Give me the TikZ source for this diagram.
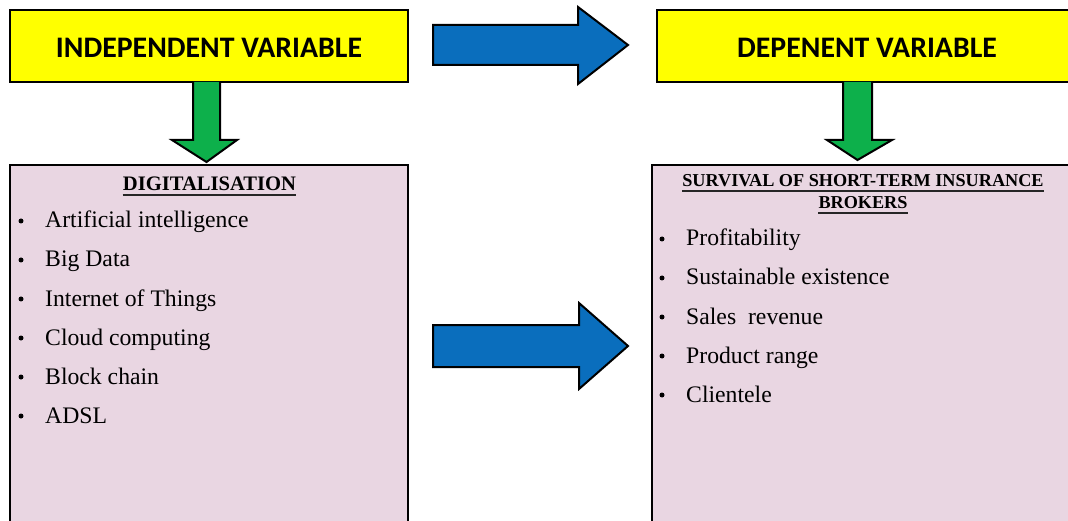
\documentclass[tikz,border=0pt]{standalone}
\usepackage{fontspec}
\setmainfont{Liberation Serif}
\newfontfamily\carlito{Carlito}
\usetikzlibrary{calc}
\definecolor{boxyellow}{HTML}{FFFF00}
\definecolor{boxpink}{HTML}{E9D6E2}
\definecolor{arrblue}{HTML}{0A6EBD}
\definecolor{arrgreen}{HTML}{0DB04B}
\tikzset{
  ybox/.style={draw=black, line width=2.6pt, fill=boxyellow, inner sep=0pt,
    minimum height=72pt, text height=24pt, text depth=0pt,
    font=\carlito\bfseries\fontsize{29.8}{32}\selectfont},
  pbox/.style={draw=black, line width=2.6pt, fill=boxpink, inner sep=0pt},
  headtxt/.style={inner sep=0pt, anchor=base, font=\bfseries\fontsize{20.6}{22}\selectfont},
  headtxtR/.style={inner sep=0pt, anchor=base, font=\bfseries\fontsize{18.2}{20}\selectfont},
  itemtxt/.style={inner sep=0pt, anchor=base west, font=\fontsize{23.7}{26}\selectfont},
  ulinestyle/.style={line width=1.3pt, black!85},
  bulletdot/.style={fill=black},
  bluearrow/.style={draw=black, line width=2pt, fill=arrblue, line join=miter},
  greenarrow/.style={draw=black, line width=2pt, fill=arrgreen, line join=miter},
}
\begin{document}
\begin{tikzpicture}[x=1pt, y=-1pt]
\clip (0,0) rectangle (1068,521);
\fill[white] (0,0) rectangle (1068,521);

% boxes
\node[ybox, minimum width=398pt] (indep) at (209,46) {INDEPENDENT VARIABLE};
\node[ybox, minimum width=420pt] (dep) at (867,46) {DEPENENT VARIABLE};
\node[pbox, minimum width=398pt, minimum height=380pt] (pinkL) at (209,355) {};
\node[pbox, minimum width=422pt, minimum height=380pt] (pinkR) at (863,355) {};

% top blue arrow (independent -> dependent)
\draw[bluearrow] (433,25) -- (578,25) -- (578,7) -- (628,45) -- (578,84) -- (578,65) -- (433,65) -- cycle;
% middle blue arrow
\draw[bluearrow] (433,325) -- (579,325) -- (579,303) -- (628,346) -- (579,389) -- (579,367) -- (433,367) -- cycle;
% green arrows
\draw[greenarrow] (193,82) -- (193,140) -- (172,140) -- (206.5,162) -- (237,140) -- (220,140) -- (220,82);
\draw[greenarrow] (843,82) -- (843,140) -- (827,140) -- (857.5,160) -- (892,140) -- (872,140) -- (872,82);

% left box content
\node[headtxt] (hl) at (209.5,191) {DIGITALISATION};
\draw[ulinestyle] ($(hl.base west)+(0,4)$) -- ($(hl.base east)+(0,4)$);
\foreach \t [count=\i from 0] in {Artificial intelligence, Big Data, Internet of Things, Cloud computing, Block chain, ADSL}{
  \node[itemtxt] (l\i) at (45,{228+39*\i}) {\t};
  \fill[bulletdot] (21,{221+39*\i}) circle (2.5);
}

% right box content
\node[headtxtR] (hr1) at (863,187) {SURVIVAL OF SHORT-TERM INSURANCE};
\draw[ulinestyle] ($(hr1.base west)+(0,4)$) -- ($(hr1.base east)+(0,4)$);
\node[headtxtR] (hr2) at (863,209) {BROKERS};
\draw[ulinestyle] ($(hr2.base west)+(0,4)$) -- ($(hr2.base east)+(0,4)$);
\foreach \t [count=\i from 0] in {Profitability, Sustainable existence, Sales\ \ revenue, Product range, Clientele}{
  \node[itemtxt] (r\i) at (686,{246+39*\i}) {\t};
  \fill[bulletdot] (662,{239+39*\i}) circle (2.5);
}
\end{tikzpicture}
\end{document}
